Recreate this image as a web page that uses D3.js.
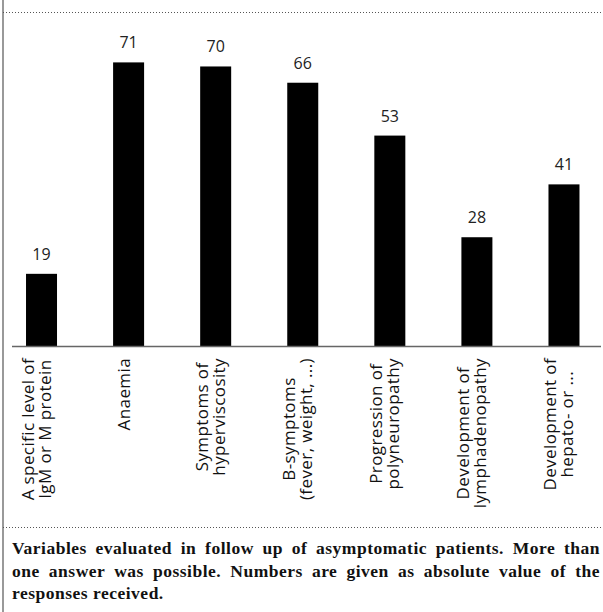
<!DOCTYPE html>
<html><head><meta charset="utf-8">
<script src="https://cdn.jsdelivr.net/npm/d3@7"></script>
<style>body{margin:0;background:#fff}svg{display:block}</style>
</head><body>
<svg id="chart" width="603" height="612"></svg>
<script>
// ---- data ----
const categories = [
  "A specific level of|IgM or M protein",
  "Anaemia",
  "Symptoms of|hyperviscosity",
  "B-symptoms|(fever, weight, ...)",
  "Progression of|polyneuropathy",
  "Development of|lymphadenopathy",
  "Development of|hepato- or ..."
];
const values = [19, 71, 70, 66, 53, 28, 41];
const captionLines = [
  "Variables evaluated in follow up of asymptomatic patients. More than",
  "one answer was possible. Numbers are given as absolute value of the",
  "responses received."
];

// ---- layout ----
const svg = d3.select("#chart");
const baseY = 346;
const x = d3.scaleBand().domain(categories).range([12, 593.5])
  .paddingInner(0.644).paddingOuter(0.161);
const y = d3.scaleLinear().domain([1.25, 71]).range([baseY, 62.4]);

// frame: left border + dotted separators
svg.append("line").attr("x1", 3).attr("x2", 3).attr("y1", 0).attr("y2", 612)
  .attr("stroke", "#777").attr("stroke-width", 1.5);
[12, 527].forEach(yy => {
  svg.append("line").attr("x1", 3).attr("x2", 603).attr("y1", yy + 0.5).attr("y2", yy + 0.5)
    .attr("stroke", "#555").attr("stroke-width", 1).attr("stroke-dasharray", "1,2");
});

// bars
svg.append("g").selectAll("rect").data(values).join("rect")
  .attr("x", (d, i) => x(categories[i]))
  .attr("width", x.bandwidth())
  .attr("y", d => y(d))
  .attr("height", d => baseY - y(d))
  .attr("fill", "#000");

// axis line
svg.append("line").attr("x1", 12).attr("x2", 601).attr("y1", baseY + 0.5).attr("y2", baseY + 0.5)
  .attr("stroke", "#666").attr("stroke-width", 1.3);

// value labels
svg.append("g").selectAll("text").data(values).join("text")
  .attr("x", (d, i) => x(categories[i]) + x.bandwidth() / 2)
  .attr("y", d => y(d) - 14)
  .attr("text-anchor", "middle")
  .attr("font-family", "'Open Sans', Lato, sans-serif")
  .attr("font-size", 16)
  .attr("fill", "#222")
  .text(d => d);

// rotated category labels (lines centred on each other, block top-aligned under the axis)
const labG = svg.append("g");
const labTop = 358;
categories.forEach((c, i) => {
  const lines = c.split("|");
  const cx = x(c) + x.bandwidth() / 2;
  const lh = 17;
  const g = labG.append("g");
  const texts = lines.map((ln, j) => g.append("text")
      .attr("x", 0)
      .attr("y", (j - (lines.length - 1) / 2) * lh + 1)
      .attr("text-anchor", "middle")
      .attr("font-family", "'Open Sans', Lato, sans-serif")
      .attr("font-size", 17)
      .attr("letter-spacing", 0.4)
      .attr("fill", "#111")
      .text(ln));
  const maxLen = d3.max(texts, t => t.node().getComputedTextLength());
  g.attr("transform", `translate(${cx},${labTop + maxLen / 2}) rotate(-90)`);
});

// caption (justified first two lines)
const capG = svg.append("g");
const capX0 = 12, capX1 = 600;
captionLines.forEach((ln, i) => {
  const t = capG.append("text")
    .attr("x", capX0)
    .attr("y", 554 + i * 22.5)
    .attr("font-family", "'Liberation Serif', 'DejaVu Serif', serif")
    .attr("font-weight", "bold")
    .attr("font-size", 17.5)
    .attr("letter-spacing", 0.5)
    .attr("fill", "#111")
    .text(ln);
  if (i < captionLines.length - 1) {
    const w = t.node().getComputedTextLength();
    const spaces = (ln.match(/ /g) || []).length;
    t.attr("word-spacing", Math.max(0, (capX1 - capX0 - w) / spaces));
  }
});
</script>
</body></html>
